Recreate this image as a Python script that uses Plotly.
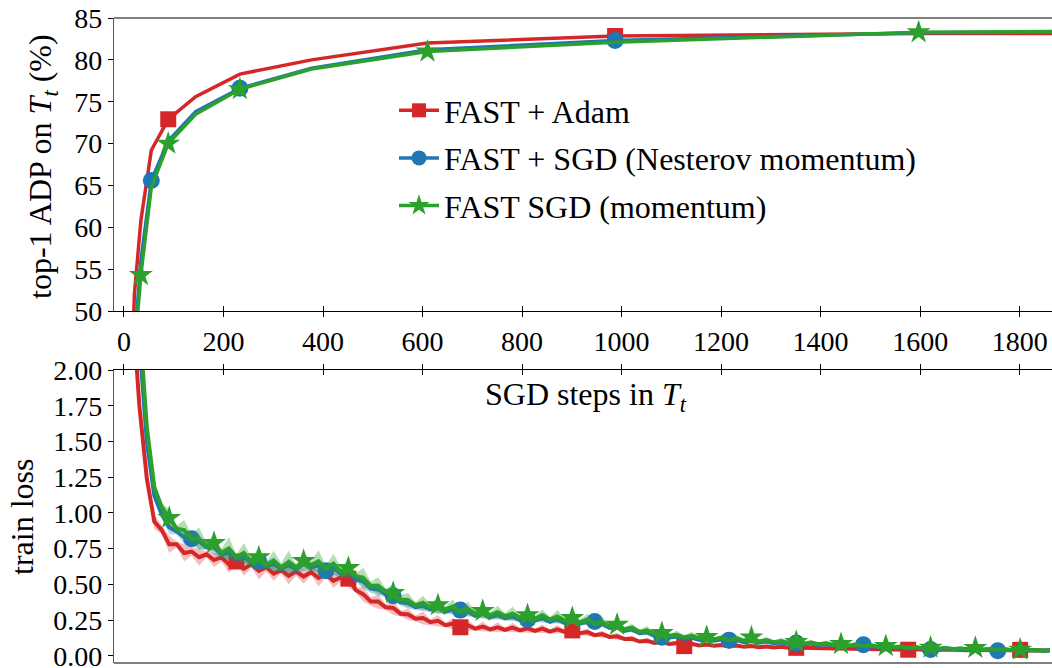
import plotly.graph_objects as go

# ---------------- data ----------------
# top panel: top-1 ADP accuracy (%) at Fibonacci SGD steps
steps_top = [13, 21, 34, 55, 89, 144, 233, 377, 610, 987, 1597, 2584]
adam_acc = [38.0, 52.0, 60.8, 69.2, 72.9, 75.6, 78.3, 80.0, 82.0, 82.85, 83.15, 83.2]
nesterov_acc = [30.0, 46.0, 56.0, 65.6, 70.3, 73.8, 76.6, 79.0, 81.2, 82.3, 83.25, 83.5]
momentum_acc = [28.0, 45.0, 54.3, 64.8, 70.0, 73.5, 76.5, 78.9, 81.0, 82.1, 83.3, 83.65]

# bottom panel: train loss (mean and spread) every 15 SGD steps
steps_loss = list(range(1, 1862, 15))

adam_loss = [
    4.20, 2.50, 1.75, 1.24, 0.94, 0.88, 0.78, 0.78, 0.72, 0.73,
    0.69, 0.71, 0.67, 0.69, 0.64, 0.66, 0.61, 0.64, 0.595, 0.62,
    0.575, 0.60, 0.56, 0.59, 0.555, 0.585, 0.545, 0.57, 0.525, 0.55,
    0.54, 0.46, 0.43, 0.38, 0.38, 0.34, 0.335, 0.295, 0.29, 0.26,
    0.265, 0.235, 0.245, 0.215, 0.225, 0.20, 0.215, 0.19, 0.205, 0.185,
    0.20, 0.182, 0.198, 0.178, 0.193, 0.175, 0.19, 0.17, 0.186, 0.168,
    0.178, 0.158, 0.166, 0.145, 0.152, 0.132, 0.137, 0.118, 0.12, 0.10,
    0.106, 0.09, 0.097, 0.083, 0.09, 0.068, 0.084, 0.072, 0.08, 0.07,
    0.076, 0.066, 0.072, 0.063, 0.069, 0.06, 0.066, 0.058, 0.064, 0.056,
    0.056, 0.055, 0.059, 0.052, 0.057, 0.05, 0.055, 0.048, 0.053, 0.047,
    0.051, 0.046, 0.049, 0.044, 0.048, 0.043, 0.047, 0.042, 0.046, 0.041,
    0.045, 0.041, 0.044, 0.04, 0.043, 0.039, 0.042, 0.038, 0.041, 0.038,
    0.042, 0.037, 0.04, 0.036, 0.038,
]
adam_sd = [
    0.06, 0.06, 0.05, 0.05, 0.05, 0.03, 0.06, 0.02, 0.06, 0.03,
    0.06, 0.02, 0.05, 0.03, 0.06, 0.02, 0.05, 0.02, 0.06, 0.03,
    0.05, 0.02, 0.06, 0.03, 0.05, 0.02, 0.06, 0.02, 0.05, 0.03,
    0.06, 0.02, 0.05, 0.03, 0.05, 0.02, 0.05, 0.02, 0.04, 0.02,
    0.045, 0.02, 0.04, 0.015, 0.04, 0.02, 0.04, 0.015, 0.035, 0.015,
    0.035, 0.015, 0.035, 0.015, 0.03, 0.015, 0.03, 0.012, 0.03, 0.012,
    0.03, 0.012, 0.028, 0.012, 0.025, 0.012, 0.025, 0.01, 0.022, 0.01,
    0.022, 0.01, 0.02, 0.01, 0.02, 0.01, 0.018, 0.008, 0.018, 0.008,
    0.016, 0.008, 0.016, 0.008, 0.015, 0.008, 0.015, 0.007, 0.014, 0.007,
    0.014, 0.007, 0.013, 0.007, 0.013, 0.006, 0.012, 0.006, 0.012, 0.006,
    0.011, 0.006, 0.011, 0.006, 0.01, 0.006, 0.01, 0.005, 0.01, 0.005,
    0.01, 0.005, 0.01, 0.005, 0.01, 0.005, 0.009, 0.005, 0.009, 0.005,
    0.009, 0.005, 0.009, 0.005, 0.008,
]

nesterov_loss = [
    4.50, 2.90, 2.20, 1.50, 1.12, 0.99, 0.90, 0.87, 0.83, 0.82,
    0.80, 0.76, 0.76, 0.71, 0.72, 0.68, 0.69, 0.65, 0.66, 0.63,
    0.64, 0.61, 0.635, 0.605, 0.645, 0.615, 0.635, 0.595, 0.615, 0.575,
    0.595, 0.535, 0.52, 0.47, 0.465, 0.43, 0.42, 0.375, 0.37, 0.34,
    0.35, 0.325, 0.335, 0.31, 0.325, 0.32, 0.31, 0.28, 0.295, 0.27,
    0.285, 0.262, 0.275, 0.25, 0.255, 0.248, 0.262, 0.238, 0.255, 0.23,
    0.25, 0.225, 0.24, 0.24, 0.225, 0.195, 0.205, 0.175, 0.185, 0.158,
    0.165, 0.14, 0.13, 0.128, 0.136, 0.118, 0.128, 0.112, 0.12, 0.106,
    0.116, 0.11, 0.11, 0.096, 0.104, 0.092, 0.10, 0.088, 0.094, 0.084,
    0.09, 0.08, 0.086, 0.076, 0.082, 0.072, 0.078, 0.068, 0.074, 0.077,
    0.07, 0.06, 0.066, 0.056, 0.062, 0.052, 0.058, 0.05, 0.045, 0.048,
    0.053, 0.046, 0.05, 0.044, 0.048, 0.042, 0.046, 0.036, 0.044, 0.04,
    0.043, 0.038, 0.041, 0.036, 0.039,
]
nesterov_sd = [
    0.05, 0.05, 0.05, 0.05, 0.04, 0.03, 0.05, 0.02, 0.05, 0.03,
    0.05, 0.02, 0.05, 0.03, 0.05, 0.02, 0.05, 0.02, 0.05, 0.03,
    0.05, 0.02, 0.05, 0.03, 0.05, 0.02, 0.05, 0.02, 0.05, 0.03,
    0.05, 0.02, 0.05, 0.03, 0.045, 0.02, 0.045, 0.02, 0.04, 0.02,
    0.04, 0.02, 0.04, 0.015, 0.035, 0.02, 0.035, 0.015, 0.035, 0.015,
    0.03, 0.015, 0.03, 0.015, 0.03, 0.015, 0.028, 0.012, 0.028, 0.012,
    0.026, 0.012, 0.025, 0.012, 0.024, 0.012, 0.022, 0.01, 0.02, 0.01,
    0.02, 0.01, 0.02, 0.01, 0.018, 0.01, 0.018, 0.008, 0.016, 0.008,
    0.016, 0.008, 0.015, 0.008, 0.015, 0.008, 0.014, 0.007, 0.014, 0.007,
    0.013, 0.007, 0.013, 0.007, 0.012, 0.006, 0.012, 0.006, 0.011, 0.006,
    0.011, 0.006, 0.01, 0.006, 0.01, 0.006, 0.01, 0.005, 0.01, 0.005,
    0.01, 0.005, 0.009, 0.005, 0.009, 0.005, 0.009, 0.005, 0.009, 0.005,
    0.008, 0.005, 0.008, 0.005, 0.008,
]

momentum_loss = [
    4.60, 3.10, 2.35, 1.60, 1.18, 1.04, 0.965, 0.89, 0.88, 0.82,
    0.82, 0.77, 0.79, 0.72, 0.75, 0.69, 0.72, 0.66, 0.69, 0.635,
    0.665, 0.62, 0.655, 0.62, 0.665, 0.635, 0.66, 0.61, 0.645, 0.59,
    0.615, 0.56, 0.545, 0.49, 0.49, 0.45, 0.44, 0.395, 0.39, 0.355,
    0.37, 0.34, 0.355, 0.325, 0.345, 0.31, 0.33, 0.295, 0.315, 0.285,
    0.305, 0.278, 0.295, 0.268, 0.285, 0.26, 0.285, 0.255, 0.275, 0.246,
    0.265, 0.235, 0.255, 0.225, 0.238, 0.205, 0.218, 0.186, 0.197, 0.168,
    0.178, 0.152, 0.16, 0.14, 0.148, 0.13, 0.14, 0.124, 0.133, 0.116,
    0.127, 0.112, 0.122, 0.106, 0.13, 0.10, 0.11, 0.095, 0.104, 0.09,
    0.097, 0.085, 0.093, 0.081, 0.088, 0.076, 0.083, 0.072, 0.08, 0.069,
    0.074, 0.064, 0.069, 0.06, 0.065, 0.055, 0.061, 0.052, 0.058, 0.05,
    0.055, 0.048, 0.052, 0.046, 0.056, 0.044, 0.048, 0.042, 0.046, 0.04,
    0.044, 0.038, 0.041, 0.036, 0.039,
]
momentum_sd = [
    0.05, 0.05, 0.05, 0.05, 0.04, 0.03, 0.06, 0.02, 0.07, 0.03,
    0.08, 0.02, 0.06, 0.03, 0.08, 0.02, 0.07, 0.03, 0.06, 0.02,
    0.07, 0.03, 0.08, 0.02, 0.06, 0.03, 0.08, 0.02, 0.07, 0.03,
    0.06, 0.02, 0.07, 0.03, 0.06, 0.02, 0.06, 0.03, 0.05, 0.02,
    0.05, 0.02, 0.06, 0.02, 0.05, 0.02, 0.05, 0.02, 0.05, 0.02,
    0.045, 0.02, 0.05, 0.015, 0.045, 0.02, 0.04, 0.015, 0.045, 0.02,
    0.04, 0.015, 0.04, 0.015, 0.035, 0.015, 0.035, 0.015, 0.03, 0.012,
    0.03, 0.012, 0.03, 0.012, 0.03, 0.012, 0.028, 0.01, 0.028, 0.01,
    0.025, 0.01, 0.025, 0.01, 0.025, 0.01, 0.025, 0.01, 0.022, 0.01,
    0.022, 0.01, 0.02, 0.008, 0.02, 0.008, 0.02, 0.008, 0.018, 0.008,
    0.018, 0.008, 0.016, 0.008, 0.016, 0.007, 0.015, 0.007, 0.015, 0.007,
    0.014, 0.007, 0.014, 0.006, 0.013, 0.006, 0.012, 0.006, 0.012, 0.006,
    0.012, 0.006, 0.011, 0.006, 0.01,
]

for arr in (adam_loss, adam_sd, nesterov_loss, nesterov_sd, momentum_loss, momentum_sd):
    assert len(arr) == len(steps_loss), len(arr)

x_ticks = [0, 200, 400, 600, 800, 1000, 1200, 1400, 1600, 1800]
acc_ticks = [50, 55, 60, 65, 70, 75, 80, 85]
loss_ticks = [0.0, 0.25, 0.5, 0.75, 1.0, 1.25, 1.5, 1.75, 2.0]

# ---------------- style ----------------
FONT = "Liberation Serif, Tinos, Times New Roman, DejaVu Serif, serif"
series = [
    dict(name="FAST + Adam", color="#d62728", band="rgba(214,39,40,0.30)", symbol="square", size=16,
         acc=adam_acc, top_mark=(4, 5), loss=adam_loss, sd=adam_sd, bot_every=15),
    dict(name="FAST + SGD (Nesterov momentum)", color="#1f77b4", band="rgba(31,119,180,0.30)", symbol="circle", size=17,
         acc=nesterov_acc, top_mark=(3, 3), loss=nesterov_loss, sd=nesterov_sd, bot_every=9),
    dict(name="FAST SGD (momentum)", color="#2ca02c", band="rgba(44,160,44,0.35)", symbol="star", size=18,
         acc=momentum_acc, top_mark=(2, 2), loss=momentum_loss, sd=momentum_sd, bot_every=6),
]

fig = go.Figure()
for k, s in enumerate(series):
    start, every = s["top_mark"]
    fig.add_trace(go.Scatter(
        x=steps_top, y=s["acc"], mode="lines", line=dict(color=s["color"], width=3.5),
        xaxis="x", yaxis="y", showlegend=False, hoverinfo="skip"))
    fig.add_trace(go.Scatter(
        x=steps_top[start::every], y=s["acc"][start::every], mode="markers",
        marker=dict(symbol=s["symbol"], size=s["size"], color=s["color"], line=dict(width=0)),
        xaxis="x", yaxis="y", showlegend=False, hoverinfo="skip"))
    fig.add_trace(go.Scatter(
        x=[None], y=[None], mode="lines+markers", name=s["name"], legendgroup=f"g{k}",
        line=dict(color=s["color"], width=3.5),
        marker=dict(symbol=s["symbol"], size=s["size"] - 2, color=s["color"], line=dict(width=0)),
        xaxis="x", yaxis="y", showlegend=True))

for s in series:
    upper = [m + d for m, d in zip(s["loss"], s["sd"])]
    lower = [m - d for m, d in zip(s["loss"], s["sd"])]
    fig.add_trace(go.Scatter(
        x=steps_loss + steps_loss[::-1], y=upper + lower[::-1], mode="lines", fill="toself",
        fillcolor=s["band"], line=dict(width=0), xaxis="x2", yaxis="y2",
        showlegend=False, hoverinfo="skip"))
    fig.add_trace(go.Scatter(
        x=steps_loss, y=s["loss"], mode="lines", line=dict(color=s["color"], width=4),
        xaxis="x2", yaxis="y2", showlegend=False, hoverinfo="skip"))
    e = s["bot_every"]
    fig.add_trace(go.Scatter(
        x=steps_loss[::e], y=s["loss"][::e], mode="markers",
        marker=dict(symbol=s["symbol"], size=s["size"], color=s["color"], line=dict(width=0)),
        xaxis="x2", yaxis="y2", showlegend=False, hoverinfo="skip"))

# dummy traces so overlay tick axes are drawn
fig.add_trace(go.Scatter(x=[None], y=[None], xaxis="x3", yaxis="y", showlegend=False, hoverinfo="skip"))
fig.add_trace(go.Scatter(x=[None], y=[None], xaxis="x4", yaxis="y2", showlegend=False, hoverinfo="skip"))

XR = [-20, 1865]
L, R, T, B = 114, 0, 18, 5
W, H = 1052, 668
ph = H - T - B
top_dom = [(H - B - 311) / ph, 1.0]
bot_dom = [0.0, (H - B - 370) / ph]

tickfont = dict(family=FONT, size=28, color="black")
common_x = dict(range=XR, tickvals=x_ticks, showgrid=False, zeroline=False, tickcolor="black",
                tickwidth=1.3, automargin=False, ticklabeloverflow="allow")

fig.update_layout(
    width=W, height=H, margin=dict(l=L, r=R, t=T, b=B, autoexpand=False),
    paper_bgcolor="white", plot_bgcolor="white",
    font=dict(family=FONT, size=28, color="black"),
    xaxis=dict(**common_x, anchor="y", side="bottom", showline=True, linecolor="black", linewidth=1.3,
               ticks="outside", ticklen=5, tickfont=tickfont, ticklabelstandoff=0),
    xaxis3=dict(**common_x, anchor="y", overlaying="x", side="bottom", showline=False,
                ticks="inside", ticklen=5, showticklabels=False),
    yaxis=dict(domain=top_dom, range=[50, 85], tickvals=acc_ticks, showgrid=False, zeroline=False,
               showline=True, linecolor="#555555", linewidth=1.3, ticks="outside", ticklen=5,
               tickcolor="black", tickwidth=1.3, tickfont=tickfont, automargin=False,
               ticklabeloverflow="allow"),
    xaxis2=dict(**common_x, anchor="y2", side="top", showline=True, linecolor="black", linewidth=1.3,
                ticks="outside", ticklen=5, showticklabels=False),
    xaxis4=dict(**common_x, anchor="y2", overlaying="x2", side="top", showline=False,
                ticks="inside", ticklen=5, showticklabels=False),
    yaxis2=dict(domain=bot_dom, range=[-0.05, 2.0], tickvals=loss_ticks, tickformat=".2f",
                showgrid=False, zeroline=False, showline=True, linecolor="#555555", linewidth=1.3,
                ticks="outside", ticklen=5, tickcolor="black", tickwidth=1.3, tickfont=tickfont,
                automargin=False, ticklabeloverflow="allow"),
    legend=dict(x=(394 - L) / (W - L), y=(H - B - 83) / ph, xanchor="left", yanchor="top",
                font=dict(family=FONT, size=32, color="black"), bgcolor="rgba(0,0,0,0)",
                tracegroupgap=3, itemwidth=40),
    showlegend=True,
)

fig.add_shape(type="line", xref="x domain", yref="y domain", x0=0, x1=1, y0=1, y1=1,
              line=dict(color="#555555", width=1.3))
fig.add_shape(type="line", xref="x2 domain", yref="y2 domain", x0=0, x1=1, y0=0, y1=0,
              line=dict(color="#555555", width=1.3))

def px(xp):
    return (xp - L) / (W - L)

def py(yp):
    return (H - B - yp) / ph

fig.add_annotation(text="top-1 ADP on <i>T</i><sub><i>t</i></sub> (%)", xref="paper", yref="paper",
                   x=px(42), y=py(167), textangle=-90, showarrow=False,
                   font=dict(family=FONT, size=32, color="black"), xanchor="center", yanchor="middle")
fig.add_annotation(text="train loss", xref="paper", yref="paper",
                   x=px(22), y=py(517), textangle=-90, showarrow=False,
                   font=dict(family=FONT, size=32, color="black"), xanchor="center", yanchor="middle")
fig.add_annotation(text="SGD steps in <i>T</i><sub><i>t</i></sub>", xref="paper", yref="paper",
                   x=px(586), y=py(396), showarrow=False,
                   font=dict(family=FONT, size=32, color="black"), xanchor="center", yanchor="middle")

fig.write_html("out.html", config={"displayModeBar": False},
               post_script="document.body.style.margin='0';")
